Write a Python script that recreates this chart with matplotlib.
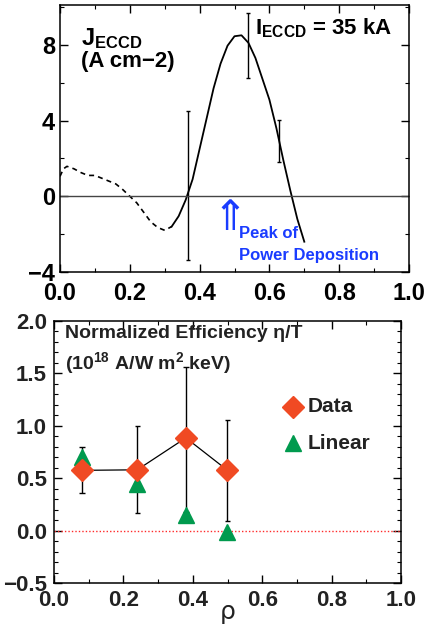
import matplotlib
matplotlib.use("Agg")
import matplotlib.pyplot as plt
from matplotlib.ticker import MultipleLocator

plt.rcParams['font.family'] = ['Liberation Sans', 'DejaVu Sans']
plt.rcParams['mathtext.fontset'] = 'custom'
plt.rcParams['mathtext.bf'] = 'Liberation Sans:bold'
plt.rcParams['mathtext.rm'] = 'Liberation Sans:bold'

# top panel: ECCD current density profile
rho_dash = [0.0, 0.01, 0.02, 0.04, 0.06, 0.08, 0.10, 0.12, 0.14, 0.16, 0.18,
            0.20, 0.22, 0.24, 0.26, 0.28, 0.30, 0.32]
j_dash = [1.05, 1.45, 1.58, 1.45, 1.25, 1.1, 1.1, 0.95, 0.8, 0.65, 0.35,
          0.0, -0.35, -0.85, -1.35, -1.65, -1.8, -1.6]
rho_solid = [0.32, 0.34, 0.36, 0.38, 0.40, 0.42, 0.44, 0.46, 0.48, 0.50, 0.52,
             0.54, 0.56, 0.58, 0.60, 0.62, 0.64, 0.66, 0.68, 0.70]
j_solid = [-1.6, -1.05, -0.2, 0.9, 2.5, 4.1, 5.7, 7.0, 7.95, 8.45, 8.5,
           8.1, 7.3, 6.2, 5.1, 3.6, 1.9, 0.3, -1.2, -2.4]
err_rho = [0.367, 0.538, 0.628]
err_lo = [-3.35, 6.25, 1.8]
err_hi = [4.5, 9.7, 4.05]

# bottom panel: normalized efficiency
eff_rho = [0.08, 0.24, 0.38, 0.50]
eff_data = [0.575, 0.58, 0.885, 0.575]
eff_lo = [0.355, 0.165, 0.18, 0.095]
eff_hi = [0.795, 1.0, 1.565, 1.055]
eff_linear = [0.70, 0.445, 0.145, -0.015]

fig = plt.figure(figsize=(4.27, 6.26), dpi=100)

ax1 = fig.add_axes([60/427, 1-272/626, 349/427, 267/626])
ax1.plot(rho_dash, j_dash, color='black', lw=1.2, ls=(0, (3, 2.5)))
ax1.plot(rho_solid, j_solid, color='black', lw=1.3)
ax1.vlines(err_rho, err_lo, err_hi, color='black', lw=1)
ax1.hlines(err_lo + err_hi, [r - 0.006 for r in err_rho * 2], [r + 0.006 for r in err_rho * 2],
           color='black', lw=1)
ax1.axhline(0, color='#444444', lw=1)
ax1.set_xlim(0, 1)
ax1.set_ylim(-4, 10.1)
ax1.set_yticks([-4, 0, 4, 8])
ax1.set_yticklabels(['\u22124', '0', '4', '8'])
ax1.set_xticks([0, 0.2, 0.4, 0.6, 0.8, 1.0])
ax1.set_xticklabels(['0.0', '0.2', '0.4', '0.6', '0.8', '1.0'])
ax1.xaxis.set_minor_locator(MultipleLocator(0.1))
ax1.yaxis.set_minor_locator(MultipleLocator(2))
ax1.text(0.06, 9.0, r'$\mathbf{J_{ECCD}}$', fontsize=17, va='top', ha='left')
ax1.text(0.06, 7.65, '(A cm\u22122)', fontsize=16, fontweight='bold', va='top', ha='left')
ax1.text(0.56, 9.5, r'$\mathbf{I_{ECCD}}$' + ' = 35 kA', fontsize=16, fontweight='bold',
         va='top', ha='left')
ax1.text(0.487, -2.25, '\u21d1', color='#1a3cff', fontsize=30, ha='center', va='bottom',
         family='DejaVu Sans')
ax1.text(0.512, -1.55, 'Peak of\nPower Deposition', color='#1a3cff', fontsize=12,
         fontweight='bold', va='top', ha='left', linespacing=1.65)

ax2 = fig.add_axes([54/427, 1-583/626, 347/427, 262/626])
ax2.axhline(0, color='#ff2a2a', lw=1, ls=(0, (1, 1.5)))
ax2.vlines(eff_rho, eff_lo, eff_hi, color='black', lw=1)
ax2.hlines(eff_lo + eff_hi, [r - 0.008 for r in eff_rho * 2], [r + 0.008 for r in eff_rho * 2],
           color='black', lw=1)
ax2.plot(eff_rho, eff_data, color='black', lw=0.9, zorder=3)
ax2.plot(eff_rho, eff_linear, ls='none', marker='^', ms=11, color='#009a4e', zorder=4)
ax2.plot(eff_rho, eff_data, ls='none', marker='D', ms=11, color='#f04a23', zorder=5)
ax2.plot([0.69], [1.18], ls='none', marker='D', ms=11, color='#f04a23')
ax2.plot([0.69], [0.835], ls='none', marker='^', ms=11, color='#009a4e')
ax2.text(0.73, 1.18, 'Data', fontsize=15, fontweight='bold', va='center', color='#222222')
ax2.text(0.73, 0.835, 'Linear', fontsize=15, fontweight='bold', va='center', color='#222222')
ax2.text(0.033, 1.96, 'Normalized Efficiency \u03b7/T', fontsize=14, fontweight='bold',
         va='top', color='#222222')
ax2.text(0.033, 1.72, '(10$^{18}$ A/W m$^{2}$ keV)', fontsize=14, fontweight='bold',
         va='top', color='#222222')
ax2.set_xlim(0, 1)
ax2.set_ylim(-0.5, 2.0)
ax2.set_yticks([-0.5, 0, 0.5, 1.0, 1.5, 2.0])
ax2.set_yticklabels(['\u22120.5', '0.0', '0.5', '1.0', '1.5', '2.0'])
ax2.set_xticks([0, 0.2, 0.4, 0.6, 0.8, 1.0])
ax2.set_xticklabels(['0.0', '0.2', '0.4', '0.6', '0.8', '1.0'])
ax2.xaxis.set_minor_locator(MultipleLocator(0.1))
ax2.yaxis.set_minor_locator(MultipleLocator(0.1))
ax2.set_xlabel('\u03c1', fontsize=18, labelpad=-8, family='DejaVu Sans', color='#222222')

for ax in (ax1, ax2):
    ax.tick_params(which='both', direction='in', top=True, right=True)
    ax.tick_params(which='major', length=6, width=1)
    ax.tick_params(which='minor', length=3, width=0.8)
    for sp in ax.spines.values():
        sp.set_linewidth(1.1)
for lab in ax1.get_xticklabels() + ax1.get_yticklabels():
    lab.set_fontsize(17)
    lab.set_fontweight('bold')
for lab in ax2.get_xticklabels() + ax2.get_yticklabels():
    lab.set_fontsize(16)
    lab.set_fontweight('bold')
    lab.set_color('#222222')
ax1.tick_params(axis='x', pad=7)
ax2.tick_params(axis='both', pad=5)

fig.savefig('out.png', dpi=100)
